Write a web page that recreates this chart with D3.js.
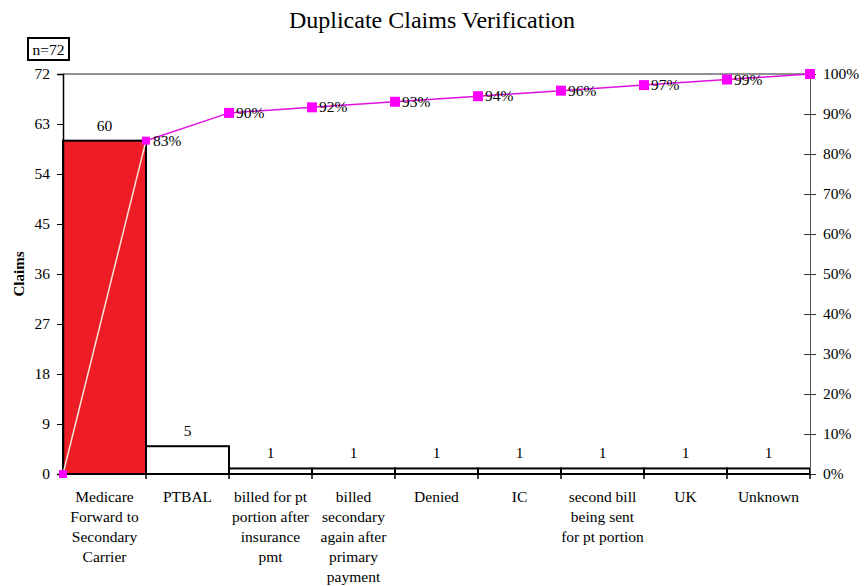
<!DOCTYPE html>
<html>
<head>
<meta charset="utf-8">
<script src="https://cdn.jsdelivr.net/npm/d3@7"></script>
<style>
  body { margin: 0; background: #fff; }
  text { font-family: "Liberation Serif", "DejaVu Serif", serif; }
</style>
</head>
<body>
<svg id="chart"></svg>
<script>
// Chart data
const categories = [
  ['Medicare', 'Forward to', 'Secondary', 'Carrier'],
  ['PTBAL'],
  ['billed for pt', 'portion after', 'insurance', 'pmt'],
  ['billed', 'secondary', 'again after', 'primary', 'payment'],
  ['Denied'],
  ['IC'],
  ['second bill', 'being sent', 'for pt portion'],
  ['UK'],
  ['Unknown']
];
const claims = [60, 5, 1, 1, 1, 1, 1, 1, 1];
const leftTicks = [0, 9, 18, 27, 36, 45, 54, 63, 72];
const rightTicks = [0, 10, 20, 30, 40, 50, 60, 70, 80, 90, 100];

const width = 864;
const height = 586;
const margin = { top: 74, right: 54, bottom: 112, left: 63 };
const fs = '15.5px';

const svg = d3.select('#chart')
  .attr('width', width)
  .attr('height', height);

const total = d3.sum(claims);
const cum = [0, ...d3.cumsum(claims)].map(v => v / total * 100);

// Scales
const xScale = d3.scaleBand()
  .domain(d3.range(categories.length))
  .range([margin.left, width - margin.right])
  .padding(0);

const yScale = d3.scaleLinear()
  .domain([0, 72])
  .range([height - margin.bottom, margin.top]);

const pScale = d3.scaleLinear()
  .domain([0, 100])
  .range([height - margin.bottom, margin.top]);

// x position of cumulative points: left edge, then right edge of each bar
const cumX = i => i === 0 ? xScale(0) : xScale(i - 1) + xScale.bandwidth();

// Title
svg.append('text')
  .attr('x', 432)
  .attr('y', 28)
  .attr('text-anchor', 'middle')
  .style('font-size', '24px')
  .text('Duplicate Claims Verification');

// n box
svg.append('rect')
  .attr('x', 28).attr('y', 38)
  .attr('width', 41).attr('height', 22)
  .attr('fill', '#fff')
  .attr('stroke', '#000')
  .attr('stroke-width', 2);
svg.append('text')
  .attr('x', 48.5).attr('y', 54.5)
  .attr('text-anchor', 'middle')
  .style('font-size', fs)
  .text('n=72');

// Top frame line
svg.append('line')
  .attr('x1', margin.left).attr('x2', width - margin.right)
  .attr('y1', margin.top).attr('y2', margin.top)
  .attr('stroke', '#222').attr('stroke-width', 1);

// Bars
svg.selectAll('.bar')
  .data(claims)
  .enter()
  .append('rect')
  .attr('class', 'bar')
  .attr('x', (d, i) => xScale(i))
  .attr('y', d => yScale(d))
  .attr('width', xScale.bandwidth())
  .attr('height', d => yScale(0) - yScale(d))
  .attr('fill', (d, i) => i === 0 ? '#ee1c25' : '#fff')
  .attr('stroke', '#000')
  .attr('stroke-width', 2);

// Bar value labels
svg.selectAll('.val')
  .data(claims)
  .enter()
  .append('text')
  .attr('class', 'val')
  .attr('x', (d, i) => xScale(i) + xScale.bandwidth() / 2)
  .attr('y', d => yScale(d) - 10)
  .attr('text-anchor', 'middle')
  .style('font-size', fs)
  .text(d => d);

// Left axis
const leftAxis = svg.append('g')
  .attr('transform', `translate(${margin.left}, 0)`)
  .call(d3.axisLeft(yScale).tickValues(leftTicks).tickSize(6).tickPadding(7));
leftAxis.select('.domain').attr('stroke', '#000').attr('stroke-width', 1.5);
leftAxis.selectAll('.tick line').attr('stroke', '#000');
leftAxis.selectAll('text')
  .style('font-size', fs)
  .style('font-family', '"Liberation Serif", serif')
  .attr('fill', '#000');

// Right axis
const rightAxis = svg.append('g')
  .attr('transform', `translate(${width - margin.right}, 0)`)
  .call(d3.axisRight(pScale).tickValues(rightTicks).tickSize(6).tickPadding(7)
    .tickFormat(d => d + '%'));
rightAxis.select('.domain').attr('stroke', '#555');
rightAxis.selectAll('.tick line')
  .attr('x1', -6).attr('stroke', '#333');
rightAxis.selectAll('text')
  .style('font-size', fs)
  .style('font-family', '"Liberation Serif", serif')
  .attr('fill', '#000');

// Bottom axis with ticks at category boundaries
const bottom = svg.append('g');
bottom.append('line')
  .attr('x1', margin.left).attr('x2', width - margin.right)
  .attr('y1', yScale(0)).attr('y2', yScale(0))
  .attr('stroke', '#000').attr('stroke-width', 1.5);
bottom.selectAll('.btick')
  .data(d3.range(1, categories.length + 1))
  .enter()
  .append('line')
  .attr('x1', i => cumX(i)).attr('x2', i => cumX(i))
  .attr('y1', yScale(0)).attr('y2', yScale(0) + 5)
  .attr('stroke', '#000').attr('stroke-width', 1.5);

// Category labels
const cat = svg.selectAll('.cat')
  .data(categories)
  .enter()
  .append('text')
  .attr('class', 'cat')
  .attr('text-anchor', 'middle')
  .style('font-size', fs);
cat.selectAll('tspan')
  .data((d, i) => d.map(line => ({ line, i })))
  .enter()
  .append('tspan')
  .attr('x', d => xScale(d.i) + xScale.bandwidth() / 2)
  .attr('y', (d, j) => 502 + j * 20)
  .text(d => d.line);

// Y axis title
svg.append('text')
  .attr('transform', `translate(24, ${(margin.top + height - margin.bottom) / 2}) rotate(-90)`)
  .attr('text-anchor', 'middle')
  .style('font-size', '15px')
  .style('font-weight', 'bold')
  .text('Claims');

// Cumulative line
const pts = cum.map((p, i) => [cumX(i), pScale(p)]);
svg.append('line')
  .attr('x1', pts[0][0]).attr('y1', pts[0][1])
  .attr('x2', pts[1][0]).attr('y2', pts[1][1])
  .attr('stroke', '#f8e6d8').attr('stroke-width', 1.5);
svg.append('path')
  .datum(pts.slice(1))
  .attr('d', d3.line())
  .attr('fill', 'none')
  .attr('stroke', '#e010e0')
  .attr('stroke-width', 1.5);

svg.selectAll('.marker')
  .data(pts)
  .enter()
  .append('rect')
  .attr('class', 'marker')
  .attr('x', (d, i) => d[0] - (i < 2 ? 4 : 5))
  .attr('y', (d, i) => d[1] - (i < 2 ? 4 : 5))
  .attr('width', (d, i) => i < 2 ? 8 : 10)
  .attr('height', (d, i) => i < 2 ? 8 : 10)
  .attr('fill', '#ff00ff');

// Percent labels (skip start and end points)
svg.selectAll('.pct')
  .data(cum.slice(1, -1))
  .enter()
  .append('text')
  .attr('class', 'pct')
  .attr('x', (d, i) => cumX(i + 1) + 7)
  .attr('y', d => pScale(d) + 5)
  .style('font-size', fs)
  .text(d => Math.round(d) + '%');
</script>
</body>
</html>
